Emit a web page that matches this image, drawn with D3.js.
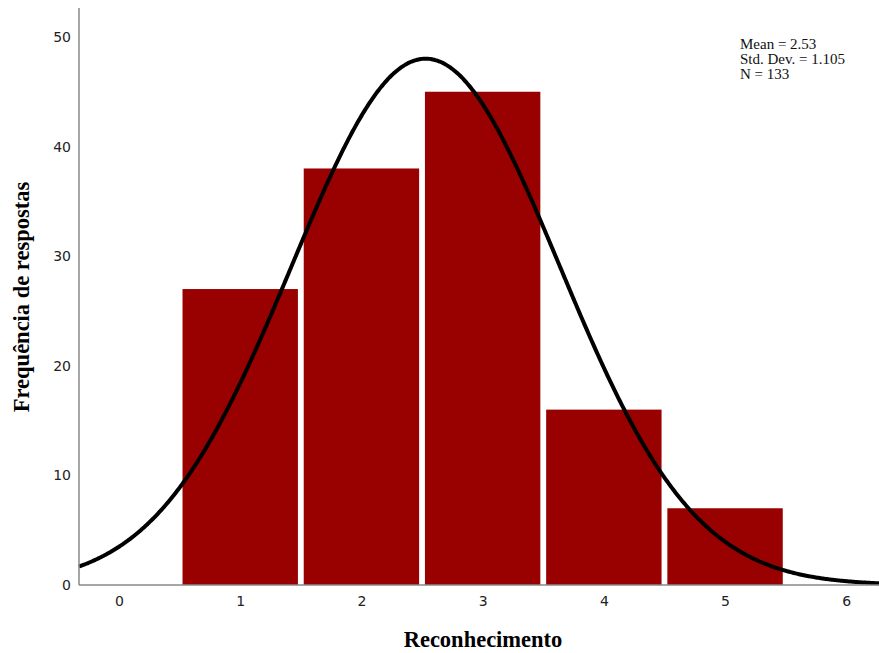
<!DOCTYPE html>
<html>
<head>
<meta charset="utf-8">
<script src="https://cdn.jsdelivr.net/npm/d3@7/dist/d3.min.js"></script>
<style>
  body { margin: 0; background: #fff; }
  svg { display: block; }
</style>
</head>
<body>
<svg id="chart" width="879" height="653"></svg>
<script>
// Frequencies per score of "Reconhecimento"
const categories = [1, 2, 3, 4, 5];
const counts = [27, 38, 45, 16, 7];
const xTicks = [0, 1, 2, 3, 4, 5, 6];
const yTicks = [0, 10, 20, 30, 40, 50];
const statLines = ["Mean = 2.53", "Std. Dev. = 1.105", "N = 133"];
const mean = 2.53, sd = 1.105, n = 133;

const svg = d3.select("#chart");
const plotLeft = 79, plotRight = 879, plotTop = 8, plotBottom = 585;

const x = d3.scaleLinear().domain([-0.33, 6.27]).range([plotLeft, plotRight]);
const y = d3.scaleLinear().domain([0, 52.64]).range([plotBottom, plotTop]);

// Bars
const half = 0.476;
svg.append("g").selectAll("rect").data(categories).join("rect")
  .attr("x", (d) => x(d - half))
  .attr("width", (d) => x(d + half) - x(d - half))
  .attr("y", (d, i) => y(counts[i]))
  .attr("height", (d, i) => y(0) - y(counts[i]))
  .attr("fill", "#990000");

// Normal curve scaled to counts (bin width 1)
const pdf = (v) => n * Math.exp(-0.5 * ((v - mean) / sd) ** 2) / (sd * Math.sqrt(2 * Math.PI));
const xs = d3.range(-0.33, 6.2701, 0.01);
svg.append("path")
  .datum(xs)
  .attr("fill", "none")
  .attr("stroke", "#000")
  .attr("stroke-width", 4)
  .attr("d", d3.line().x((v) => x(v)).y((v) => y(pdf(v))).curve(d3.curveBasis));

// Axes
const yAxis = d3.axisLeft(y).tickValues(yTicks).tickFormat(d3.format("d")).tickSize(0).tickPadding(8);
const gy = svg.append("g").attr("transform", `translate(${plotLeft},0)`).call(yAxis);
const xAxis = d3.axisBottom(x).tickValues(xTicks).tickFormat(d3.format("d")).tickSize(0).tickPadding(11);
const gx = svg.append("g").attr("transform", `translate(0,${plotBottom})`).call(xAxis);
[gx, gy].forEach((g) => {
  g.select(".domain").attr("stroke", "#888").attr("stroke-width", 1.5);
  g.selectAll("text").attr("font-family", "DejaVu Sans, sans-serif").attr("font-size", 14).attr("fill", "#222");
});
gy.select(".domain").attr("d", `M0,${plotTop}V${plotBottom}`);
gx.select(".domain").attr("d", `M${plotLeft},0H${plotRight}`);

// Axis titles
svg.append("text")
  .attr("x", 483).attr("y", 647)
  .attr("text-anchor", "middle")
  .attr("font-family", "Liberation Serif, Times New Roman, serif")
  .attr("font-weight", "bold").attr("font-size", 22.5)
  .text("Reconhecimento");
svg.append("text")
  .attr("transform", "translate(29,297) rotate(-90)")
  .attr("text-anchor", "middle")
  .attr("font-family", "Liberation Serif, Times New Roman, serif")
  .attr("font-weight", "bold").attr("font-size", 22.5)
  .text("Frequência de respostas");

// Summary statistics
svg.append("g").selectAll("text").data(statLines).join("text")
  .attr("x", 740).attr("y", (d, i) => 48.5 + i * 15)
  .attr("font-family", "Liberation Serif, Times New Roman, serif")
  .attr("font-size", 15).attr("fill", "#111")
  .text((d) => d);
</script>
</body>
</html>
